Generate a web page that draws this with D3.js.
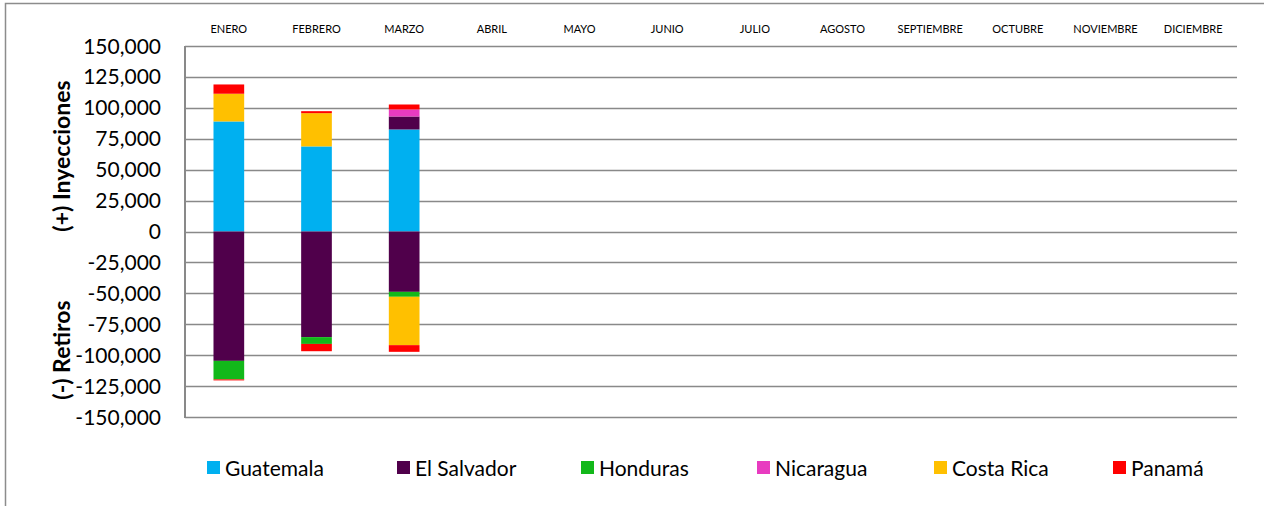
<!DOCTYPE html>
<html><head><meta charset="utf-8">
<script src="https://cdn.jsdelivr.net/npm/d3@7"></script>
<style>body{margin:0;background:#fff}svg{display:block}</style>
</head><body><svg id="c" width="1264" height="506"></svg>
<script>
const months = ["ENERO","FEBRERO","MARZO","ABRIL","MAYO","JUNIO","JULIO","AGOSTO","SEPTIEMBRE","OCTUBRE","NOVIEMBRE","DICIEMBRE"];
const countries = ["Guatemala","El Salvador","Honduras","Nicaragua","Costa Rica","Panamá"];
const colors = ["#00B0F0","#50004B","#12B81A","#E83BC0","#FFC000","#FF0000"];
// Inyecciones (positive) per country, per month (Jan-Mar)
const injGuatemala  = [89000, 68800, 82500];
const injElSalvador = [0, 0, 10500];
const injHonduras   = [0, 0, 0];
const injNicaragua  = [0, 0, 5700];
const injCostaRica  = [22400, 26900, 0];
const injPanama     = [7500, 1600, 4000];
// Retiros (negative) per country, per month
const retGuatemala  = [0, 0, 0];
const retElSalvador = [-104600, -85400, -48800];
const retHonduras   = [-15000, -5500, -4000];
const retNicaragua  = [0, 0, 0];
const retCostaRica  = [0, 0, -39100];
const retPanama     = [-800, -5900, -5400];
const yTicks = [150000,125000,100000,75000,50000,25000,0,-25000,-50000,-75000,-100000,-125000,-150000];

const inj = [injGuatemala, injElSalvador, injHonduras, injNicaragua, injCostaRica, injPanama];
const ret = [retGuatemala, retElSalvador, retHonduras, retNicaragua, retCostaRica, retPanama];

const svg = d3.select("#c");
const L = 185, R = 1237, T = 46, B = 417;
const font = "Lato, 'Open Sans', sans-serif";

svg.append("rect").attr("x",5.5).attr("y",3.5).attr("width",1270).attr("height",520)
  .attr("fill","#fff").attr("stroke","#8c8c8c").attr("stroke-width",1.5);

const x = d3.scaleBand().domain(months).range([L, R]).paddingInner(0.65).paddingOuter(0.325);
const y = d3.scaleLinear().domain([-150000,150000]).range([B, T]);

// gridlines
svg.append("g").selectAll("line").data(yTicks).join("line")
  .attr("x1",L).attr("x2",R).attr("y1",d=>Math.round(y(d))+0.5).attr("y2",d=>Math.round(y(d))+0.5)
  .attr("stroke","#898989").attr("stroke-width",1.6);

// bars
function rows(arrs){
  return months.map((m,i)=>{const o={month:m}; countries.forEach((c,k)=>o[c]=Math.abs(arrs[k][i]||0)); return o;});
}
const stack = d3.stack().keys(countries);
const posS = stack(rows(inj));
const negS = stack(rows(ret));
const gb = svg.append("g");
[[posS,1],[negS,-1]].forEach(([S,sign])=>{
  S.forEach((s,k)=>{
    gb.append("g").attr("fill",colors[k]).selectAll("rect").data(s.filter(d=>d[1]-d[0]>0)).join("rect")
      .attr("x",d=>x(d.data.month)).attr("width",x.bandwidth())
      .attr("y",d=>Math.min(y(sign*d[0]),y(sign*d[1])))
      .attr("height",d=>Math.abs(y(sign*d[1])-y(sign*d[0])));
  });
});

// left axis line
svg.append("line").attr("x1",L).attr("x2",L).attr("y1",T).attr("y2",B+1)
  .attr("stroke","#898989").attr("stroke-width",2);

// y tick labels
svg.append("g").selectAll("text").data(yTicks).join("text")
  .attr("x",161).attr("y",d=>y(d)).attr("dy","0.36em").attr("text-anchor","end")
  .attr("font-family",font).attr("font-size",21).attr("fill","#000")
  .text(d=>d3.format(",")(d).replace("−","-"));

// month labels
svg.append("g").selectAll("text").data(months).join("text")
  .attr("x",d=>x(d)+x.bandwidth()/2).attr("y",33).attr("text-anchor","middle")
  .attr("font-family",font).attr("font-size",11).attr("fill","#000").text(d=>d);

// axis titles
svg.append("text").attr("transform","translate(70,156) rotate(-90)").attr("text-anchor","middle")
  .attr("font-family",font).attr("font-size",23).attr("font-weight","bold").text("(+) Inyecciones");
svg.append("text").attr("transform","translate(70,350) rotate(-90)").attr("text-anchor","middle")
  .attr("font-family",font).attr("font-size",23).attr("font-weight","bold").text("(-) Retiros");

// legend
const legX = [207, 397, 581, 757, 934, 1113];
const lg = svg.append("g").selectAll("g").data(countries).join("g")
  .attr("transform",(d,i)=>`translate(${legX[i]},468)`);
lg.append("rect").attr("x",0).attr("y",-7).attr("width",13).attr("height",13).attr("fill",(d,i)=>colors[i]);
lg.append("text").attr("x",18).attr("y",0).attr("dy","0.36em").attr("font-family",font)
  .attr("font-size",21).attr("fill","#000").text(d=>d);
</script></body></html>
